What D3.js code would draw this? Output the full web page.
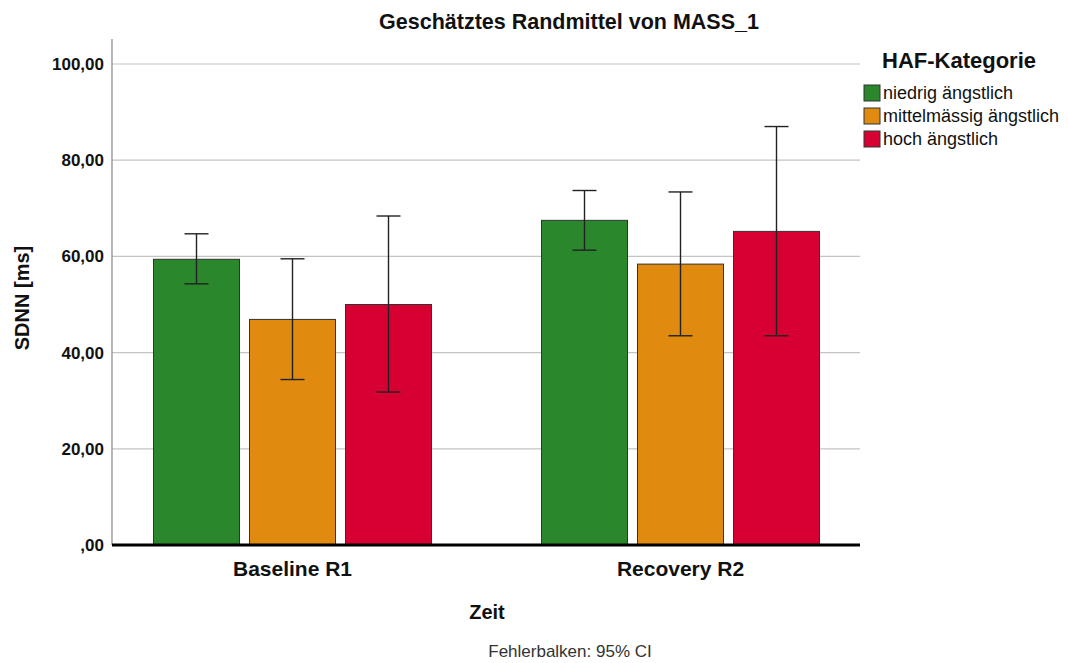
<!DOCTYPE html>
<html>
<head>
<meta charset="utf-8">
<script src="https://cdn.jsdelivr.net/npm/d3@7"></script>
<style>
  body { margin: 0; background: #fff; }
  text { font-family: "Liberation Sans", Arial, sans-serif; }
</style>
</head>
<body>
<div id="chart"></div>
<script>
const groups = ["Baseline R1", "Recovery R2"]
const categories = ["niedrig ängstlich", "mittelmässig ängstlich", "hoch ängstlich"]
const colors = ["#2a872b", "#e08a10", "#d60033"]
// means and 95% CI, per group, per category
const means = [[59.4, 46.9, 50.0], [67.5, 58.4, 65.2]]
const lower = [[54.3, 34.4, 31.8], [61.3, 43.5, 43.5]]
const upper = [[64.7, 59.5, 68.4], [73.7, 73.4, 87.0]]
const yTicks = [0, 20, 40, 60, 80, 100]

const width = 1068
const height = 663
const plot = {left: 112, right: 860, top: 39, bottom: 545}

const svg = d3.select("#chart").append("svg")
    .attr("width", width)
    .attr("height", height)

const y = d3.scaleLinear()
    .domain([0, 105.2])
    .range([plot.bottom, plot.top])

const x0 = d3.scaleBand()
    .domain(groups)
    .range([98.5, 874.5])

const x1 = d3.scaleBand()
    .domain(categories)
    .range([-139, 139])
    .paddingInner(10 / 96)

const fmt = v => v === 0 ? ",00" : d3.format(".2f")(v).replace(".", ",")

// grid
svg.append("g")
  .selectAll("line")
  .data(yTicks.filter(d => d > 0))
  .join("line")
    .attr("x1", plot.left)
    .attr("x2", plot.right)
    .attr("y1", d => y(d))
    .attr("y2", d => y(d))
    .attr("stroke", "#c4c4c4")
    .attr("stroke-width", 1.2)

// y axis
svg.append("g")
    .attr("transform", `translate(${plot.left},0)`)
    .call(d3.axisLeft(y).tickValues(yTicks).tickFormat(fmt).tickSize(0).tickPadding(8))
    .call(g => g.select(".domain").attr("stroke", "#888").attr("stroke-width", 1.2)
        .attr("d", `M0,${plot.top}V${plot.bottom}`))
    .call(g => g.selectAll(".tick text")
        .attr("font-size", 17)
        .attr("font-weight", "bold")
        .attr("fill", "#111")
        .attr("font-family", "Liberation Sans, Arial, sans-serif"))

// bars
const flat = []
groups.forEach((g, gi) => categories.forEach((c, ci) => {
  flat.push({g, c, ci, mean: means[gi][ci], lo: lower[gi][ci], hi: upper[gi][ci]})
}))

const cx = d => x0(d.g) + x0.bandwidth() / 2 + x1(d.c)

svg.append("g")
  .selectAll("rect")
  .data(flat)
  .join("rect")
    .attr("x", d => cx(d))
    .attr("y", d => y(d.mean))
    .attr("width", x1.bandwidth())
    .attr("height", d => y(0) - y(d.mean))
    .attr("fill", d => colors[d.ci])
    .attr("stroke", "#333")
    .attr("stroke-width", 1)

// error bars
const err = svg.append("g")
    .attr("stroke", "#222")
    .attr("stroke-width", 1.4)
  .selectAll("g")
  .data(flat)
  .join("g")
    .attr("transform", d => `translate(${cx(d) + x1.bandwidth() / 2},0)`)

err.append("line")
    .attr("y1", d => y(d.lo))
    .attr("y2", d => y(d.hi))
err.append("line")
    .attr("x1", -12).attr("x2", 12)
    .attr("y1", d => y(d.hi)).attr("y2", d => y(d.hi))
err.append("line")
    .attr("x1", -12).attr("x2", 12)
    .attr("y1", d => y(d.lo)).attr("y2", d => y(d.lo))

// x axis baseline
svg.append("line")
    .attr("x1", plot.left)
    .attr("x2", plot.right)
    .attr("y1", y(0))
    .attr("y2", y(0))
    .attr("stroke", "#000")
    .attr("stroke-width", 3)

svg.append("g")
  .selectAll("text")
  .data(groups)
  .join("text")
    .attr("x", d => x0(d) + x0.bandwidth() / 2)
    .attr("y", 576)
    .attr("text-anchor", "middle")
    .attr("font-size", 21)
    .attr("font-weight", "bold")
    .attr("fill", "#111")
    .text(d => d)

// titles
svg.append("text")
    .attr("x", 569)
    .attr("y", 29)
    .attr("text-anchor", "middle")
    .attr("font-size", 21.5)
    .attr("font-weight", "bold")
    .attr("fill", "#111")
    .text("Geschätztes Randmittel von MASS_1")

svg.append("text")
    .attr("transform", `translate(29,298) rotate(-90)`)
    .attr("text-anchor", "middle")
    .attr("font-size", 20)
    .attr("font-weight", "bold")
    .attr("fill", "#111")
    .text("SDNN [ms]")

svg.append("text")
    .attr("x", 487)
    .attr("y", 619)
    .attr("text-anchor", "middle")
    .attr("font-size", 20)
    .attr("font-weight", "bold")
    .attr("fill", "#111")
    .text("Zeit")

svg.append("text")
    .attr("x", 570)
    .attr("y", 657)
    .attr("text-anchor", "middle")
    .attr("font-size", 17)
    .attr("fill", "#333")
    .text("Fehlerbalken: 95% CI")

// legend
const legend = svg.append("g")
    .attr("transform", "translate(864,0)")

legend.append("text")
    .attr("x", 18)
    .attr("y", 68)
    .attr("font-size", 22)
    .attr("font-weight", "bold")
    .attr("fill", "#111")
    .text("HAF-Kategorie")

const item = legend.selectAll("g.item")
  .data(categories)
  .join("g")
    .attr("class", "item")
    .attr("transform", (d, i) => `translate(0,${85 + i * 23})`)

item.append("rect")
    .attr("width", 16)
    .attr("height", 16)
    .attr("fill", (d, i) => colors[i])
    .attr("stroke", "#333")

item.append("text")
    .attr("x", 19)
    .attr("y", 14)
    .attr("font-size", 18)
    .attr("fill", "#111")
    .text(d => d)
</script>
</body>
</html>
